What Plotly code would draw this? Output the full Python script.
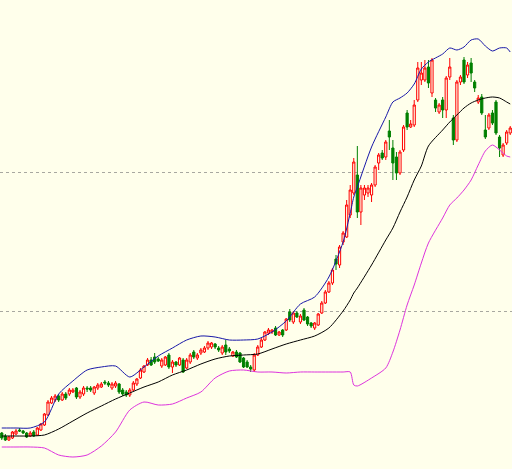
import plotly.graph_objects as go

# Candle data (price units), one entry per session
open_ = [3.6, 3.3, 2.9, 3.1, 3.5, 3.9, 3.8, 3.6, 3.3, 3.7,
         3.4, 3.9, 4.4, 5.4, 6.6, 6.9, 7.3, 6.9, 7.5, 7.5,
         7.7, 8.1, 7.2, 7.5, 8.1, 8.1, 7.6, 8.1, 8.2, 8.7,
         8.6, 8.1, 8.3, 8.5, 7.9, 7.7, 7.4, 7.9, 8.5, 9.1,
         9.7, 10.4, 10.9, 11.2, 11.0, 10.3, 10.4, 11.4, 10.2, 10.7,
         10.4, 10.9, 10.1, 10.7, 11.7, 11.1, 11.6, 11.7, 12.1, 12.2,
         12.5, 12.1, 11.6, 12.4, 12.0, 11.3, 11.7, 11.6, 11.1, 10.7,
         10.2, 9.9, 11.4, 12.2, 12.9, 13.6, 13.7, 14.1, 13.4, 13.9,
         13.9, 15.7, 14.7, 15.6, 14.7, 15.9, 15.2, 14.6, 14.1, 14.4,
         15.6, 16.6, 17.7, 18.6, 21.0, 20.4, 22.7, 23.2, 25.4, 27.6,
         29.4, 25.7, 27.4, 27.6, 27.4, 28.4, 30.6, 31.6, 31.2, 33.8,
         32.1, 31.2, 29.6, 31.9, 35.6, 34.2, 34.4, 36.9, 38.9, 38.9,
         40.2, 37.6, 36.9, 35.7, 36.9, 35.9, 39.2, 35.1, 32.9, 38.7,
         40.9, 39.4, 40.6, 38.7, 36.7, 37.2, 33.9, 34.1, 35.6, 36.7,
         33.2, 31.4, 32.6, 33.6]
close = [3.1, 2.9, 3.2, 3.7, 3.8, 3.8, 3.6, 3.2, 3.6, 3.3,
         4.1, 4.5, 5.5, 6.7, 7.1, 7.3, 6.9, 7.5, 7.1, 7.9,
         7.9, 7.2, 7.7, 8.1, 8.0, 7.9, 8.2, 8.4, 8.5, 8.6,
         8.4, 8.5, 8.6, 7.7, 7.5, 7.4, 7.9, 8.6, 9.0, 9.9,
         10.3, 10.9, 10.4, 10.7, 10.8, 10.9, 11.2, 10.2, 10.7, 10.4,
         11.1, 9.7, 10.9, 11.4, 11.2, 11.4, 11.9, 12.1, 12.6, 12.6,
         12.2, 11.9, 12.2, 11.7, 11.8, 11.7, 11.2, 10.7, 10.2, 10.2,
         10.0, 11.4, 12.2, 12.9, 13.7, 13.9, 13.9, 13.4, 13.7, 13.4,
         15.0, 14.9, 15.6, 15.2, 15.3, 14.9, 14.5, 14.3, 14.6, 15.5,
         16.6, 17.7, 18.6, 19.9, 20.5, 22.2, 23.6, 26.4, 27.9, 30.7,
         25.7, 28.1, 28.1, 28.1, 28.4, 30.2, 31.4, 31.1, 32.7, 33.2,
         30.6, 29.6, 31.7, 34.2, 34.2, 34.5, 36.4, 40.1, 39.6, 40.1,
         38.6, 40.9, 36.1, 36.4, 35.9, 39.1, 40.2, 32.9, 38.7, 39.2,
         38.7, 40.4, 39.6, 38.1, 37.1, 35.6, 33.2, 35.4, 34.6, 33.6,
         32.1, 32.4, 33.7, 34.1]
high = [3.7, 3.5, 3.3, 3.8, 4.0, 4.1, 3.9, 3.7, 3.8, 3.9,
        4.2, 4.6, 5.6, 6.9, 7.3, 7.5, 7.5, 7.7, 7.7, 8.1,
        8.1, 8.2, 7.9, 8.3, 8.3, 8.3, 8.3, 8.6, 8.7, 8.9,
        8.8, 8.7, 8.8, 8.6, 8.1, 7.9, 8.1, 8.8, 9.1, 10.1,
        10.4, 11.1, 11.2, 11.6, 11.2, 11.1, 11.3, 11.6, 10.9, 10.8,
        11.2, 11.1, 11.1, 11.6, 11.9, 11.6, 12.1, 12.3, 12.8, 12.7,
        12.6, 12.3, 12.4, 12.9, 12.2, 11.8, 11.9, 11.7, 11.2, 10.9,
        10.4, 11.6, 12.4, 13.1, 13.8, 14.1, 14.0, 14.3, 13.8, 14.0,
        15.1, 16.0, 15.8, 15.8, 15.5, 16.1, 15.3, 14.7, 14.7, 15.6,
        16.8, 17.9, 18.8, 20.1, 21.4, 22.4, 23.8, 26.9, 28.4, 31.1,
        32.3, 28.4, 28.4, 28.4, 28.6, 30.4, 31.6, 31.9, 32.9, 34.9,
        32.9, 31.7, 31.9, 34.4, 35.9, 34.9, 36.9, 40.7, 40.7, 40.9,
        40.9, 41.1, 37.1, 36.6, 37.2, 39.3, 41.1, 35.4, 38.9, 39.4,
        41.2, 40.7, 41.1, 38.9, 37.4, 37.5, 35.4, 35.6, 35.9, 36.9,
        33.4, 32.6, 33.9, 34.3]
low = [2.9, 2.8, 2.8, 3.0, 3.4, 3.7, 3.5, 3.1, 3.2, 3.2,
       3.3, 3.8, 4.3, 5.3, 6.5, 6.7, 6.7, 6.8, 6.9, 7.3,
       7.6, 7.0, 7.0, 7.3, 7.7, 7.7, 7.4, 7.9, 8.1, 8.4,
       8.2, 7.9, 8.1, 7.5, 7.3, 7.2, 7.2, 7.8, 8.3, 9.0,
       9.6, 10.3, 10.3, 10.5, 10.7, 10.1, 10.3, 10.0, 9.6, 10.2,
       10.3, 9.6, 10.0, 10.5, 11.0, 10.9, 11.4, 11.6, 11.9, 12.0,
       12.0, 11.7, 11.4, 11.4, 11.6, 11.2, 11.1, 10.6, 10.1, 10.1,
       9.7, 9.7, 11.3, 12.1, 12.8, 13.4, 13.5, 13.3, 13.3, 13.2,
       13.8, 14.7, 14.5, 15.1, 14.5, 14.8, 14.3, 14.1, 13.9, 14.3,
       15.5, 16.5, 17.6, 18.4, 19.9, 20.1, 22.4, 23.1, 25.1, 27.4,
       25.1, 24.4, 26.9, 27.2, 26.7, 28.2, 29.9, 30.9, 30.9, 31.9,
       28.9, 28.9, 29.4, 31.7, 33.9, 34.1, 34.2, 36.7, 38.4, 38.7,
       38.1, 37.2, 35.7, 35.5, 35.1, 35.1, 38.9, 32.4, 32.7, 38.4,
       38.5, 39.1, 38.7, 37.7, 36.5, 35.4, 33.0, 33.9, 34.4, 33.4,
       31.2, 31.2, 32.4, 33.4]

# Bollinger band readings at selected session indices
band_idx = [0, 4, 8, 12, 16, 20, 24, 28, 32, 36,
            40, 44, 48, 52, 56, 60, 64, 68, 72, 76,
            80, 84, 88, 92, 96, 98, 99, 100, 104, 108,
            110, 112, 114, 116, 118, 120, 124, 126, 128, 130,
            132, 134, 136, 138, 140, 142, 143]
upper = [4.1, 4.1, 4.1, 4.7, 7.5, 8.8, 9.9, 10.2, 10.3, 9.2,
         10.2, 11.3, 12.1, 12.9, 13.3, 13.2, 12.9, 12.9, 13.0, 13.7,
         14.8, 16.5, 17.2, 19.2, 22.7, 25.6, 27.2, 28.2, 32.2, 35.2,
         36.7, 37.1, 37.6, 38.5, 40.0, 40.7, 41.5, 42.1, 41.9, 42.2,
         42.9, 43.0, 42.3, 41.8, 42.1, 42.1, 41.7]
middle = [3.3, 3.3, 3.3, 3.4, 4.0, 4.8, 5.6, 6.3, 7.0, 7.6,
          8.2, 8.7, 9.4, 9.9, 10.5, 11.0, 11.3, 11.4, 11.5, 12.0,
          12.5, 12.9, 13.3, 14.1, 15.8, 16.9, 17.6, 18.1, 20.4, 22.9,
          24.1, 25.7, 27.2, 28.9, 30.3, 32.3, 33.9, 34.7, 35.4, 36.1,
          36.6, 36.9, 37.1, 37.2, 37.1, 36.7, 36.5]
lower = [2.2, 2.2, 2.2, 2.1, 1.4, 1.2, 1.4, 2.3, 3.7, 5.9,
         6.7, 6.4, 6.5, 7.1, 7.7, 9.1, 9.8, 9.9, 9.7, 9.7,
         9.6, 9.7, 9.7, 9.7, 9.7, 9.7, 8.4, 8.3, 9.1, 10.1,
         11.7, 13.9, 16.4, 18.4, 20.6, 22.6, 25.1, 26.4, 27.1, 27.9,
         28.9, 30.4, 31.8, 32.4, 31.9, 31.3, 31.2]

grid_vals = [15.8, 29.7]

BG = "#FFFFEB"
n = len(open_)
x = list(range(n))

fig = go.Figure()
fig.add_trace(go.Candlestick(
    x=x, open=open_, high=high, low=low, close=close,
    increasing=dict(line=dict(color="#FF0000", width=1), fillcolor=BG),
    decreasing=dict(line=dict(color="#008000", width=1), fillcolor="#008000"),
    whiskerwidth=0, showlegend=False, hoverinfo="skip"))

for vals, color in [(upper, "#1818A8"), (middle, "#000000"), (lower, "#DD33DD")]:
    fig.add_trace(go.Scatter(
        x=band_idx, y=vals, mode="lines", showlegend=False, hoverinfo="skip",
        line=dict(color=color, width=1, shape="spline", smoothing=0.7)))

fig.update_layout(
    width=512, height=469,
    margin=dict(l=0, r=0, t=0, b=0),
    paper_bgcolor=BG, plot_bgcolor=BG,
    showlegend=False,
    boxgap=0.12,
    xaxis=dict(range=[-0.5, n - 0.5], visible=False,
               rangeslider=dict(visible=False)),
    yaxis=dict(range=[0, 46.9], tickvals=grid_vals, showticklabels=False,
               showgrid=True, gridcolor="#A8A8A0", griddash="dot",
               gridwidth=1, zeroline=False, ticks="", showline=False),
)

fig.write_html(
    "out.html",
    config={"displayModeBar": False, "staticPlot": True},
    post_script="document.body.style.margin='0';document.body.style.overflow='hidden';",
)
